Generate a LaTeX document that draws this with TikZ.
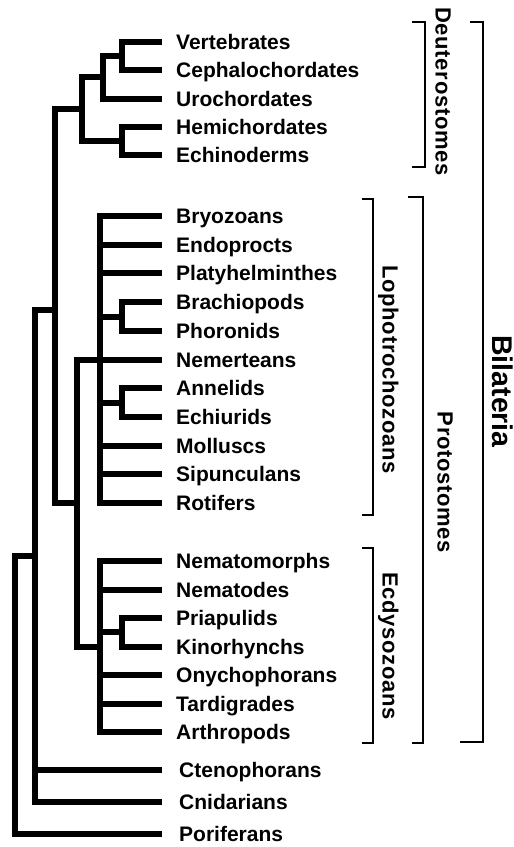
\documentclass[tikz,border=0pt]{standalone}
\usepackage{fontspec}
\setmainfont{Liberation Sans}
\newfontfamily\groupfont{Liberation Sans}[LetterSpace=3.0]
\usetikzlibrary{positioning, calc}
\tikzstyle{taxon}   = [anchor=west, inner sep=0pt, text height=15pt, text depth=0pt,
                       font=\fontsize{21}{21}\selectfont\bfseries]
\tikzstyle{stem}    = [line width=6pt, line join=miter]
\tikzstyle{branch}  = [stem, shorten >=14pt]
\tikzstyle{bracket} = [line width=2.8pt, line join=miter]
\tikzstyle{group}   = [rotate=-90, inner sep=0pt, text height=15pt, text depth=0pt,
                       font=\groupfont\fontsize{22}{22}\selectfont\bfseries]
\tikzstyle{bigroup} = [rotate=-90, inner sep=0pt, text height=20.5pt, text depth=0pt,
                       font=\fontsize{28.5}{28.5}\selectfont\bfseries]

\begin{document}
\begin{tikzpicture}[x=1pt, y=-1pt]
  \useasboundingbox (0,0) rectangle (514,847);

  % Deuterostomes
  \node (vert)  [taxon] at (176,42)    {Vertebrates};
  \node (ceph)  [taxon] at (176,70.3)  {Cephalochordates};
  \node (uro)   [taxon] at (176,98.6)  {Urochordates};
  \node (hemi)  [taxon] at (176,126.9) {Hemichordates};
  \node (echi)  [taxon] at (176,155.2) {Echinoderms};

  % Lophotrochozoans
  \node (bryo)  [taxon] at (176,216)   {Bryozoans};
  \node (endo)  [taxon] at (176,244.7) {Endoprocts};
  \node (platy) [taxon] at (176,273.4) {Platyhelminthes};
  \node (brach) [taxon] at (176,302.1) {Brachiopods};
  \node (phoro) [taxon] at (176,330.8) {Phoronids};
  \node (nemer) [taxon] at (176,359.5) {Nemerteans};
  \node (anne)  [taxon] at (176,388.2) {Annelids};
  \node (echiu) [taxon] at (176,416.9) {Echiurids};
  \node (moll)  [taxon] at (176,445.6) {Molluscs};
  \node (sipu)  [taxon] at (176,474.3) {Sipunculans};
  \node (roti)  [taxon] at (176,503)   {Rotifers};

  % Ecdysozoans
  \node (nmorph) [taxon] at (176,561)   {Nematomorphs};
  \node (nemat)  [taxon] at (176,589.5) {Nematodes};
  \node (pria)   [taxon] at (176,618)   {Priapulids};
  \node (kino)   [taxon] at (176,646.5) {Kinorhynchs};
  \node (onych)  [taxon] at (176,675)   {Onychophorans};
  \node (tardi)  [taxon] at (176,703.5) {Tardigrades};
  \node (arthro) [taxon] at (176,732)   {Arthropods};

  % Outgroups
  \node (cteno) [taxon] at (179,770) {Ctenophorans};
  \node (cnid)  [taxon] at (179,802) {Cnidarians};
  \node (pori)  [taxon] at (179,834) {Poriferans};

  % Inner nodes
  \coordinate (vc)    at (122,56.2);
  \coordinate (chord) at (103,77.4);
  \coordinate (amb)   at (122,141);
  \coordinate (deut)  at (82,109.2);
  \coordinate (bp)    at (122,316.5);
  \coordinate (ae)    at (122,402.5);
  \coordinate (loph)  at (100,359.5);
  \coordinate (pk)    at (122,632.2);
  \coordinate (ecd)   at (100,646.5);
  \coordinate (prot)  at (77,503);
  \coordinate (bil)   at (55,310);
  \coordinate (eum)   at (35,556);
  \coordinate (root)  at (15,556);

  \draw [branch] (vc)    |- (vert.west);
  \draw [branch] (vc)    |- (ceph.west);
  \draw [stem]   (chord) |- (vc);
  \draw [branch] (chord) |- (uro.west);
  \draw [branch] (amb)   |- (hemi.west);
  \draw [branch] (amb)   |- (echi.west);
  \draw [stem]   (deut)  |- (chord);
  \draw [stem]   (deut)  |- (amb);

  \draw [branch] (bp)   |- (brach.west);
  \draw [branch] (bp)   |- (phoro.west);
  \draw [branch] (ae)   |- (anne.west);
  \draw [branch] (ae)   |- (echiu.west);
  \draw [branch] (loph) |- (bryo.west);
  \draw [branch] (loph) |- (endo.west);
  \draw [branch] (loph) |- (platy.west);
  \draw [stem]   (loph) |- (bp);
  \draw [branch] (loph) -- (nemer.west);
  \draw [stem]   (loph) |- (ae);
  \draw [branch] (loph) |- (moll.west);
  \draw [branch] (loph) |- (sipu.west);
  \draw [branch] (loph) |- (roti.west);

  \draw [branch] (pk)  |- (pria.west);
  \draw [branch] (pk)  |- (kino.west);
  \draw [branch] (ecd) |- (nmorph.west);
  \draw [branch] (ecd) |- (nemat.west);
  \draw [stem]   (ecd) |- (pk);
  \draw [branch] (ecd) |- (onych.west);
  \draw [branch] (ecd) |- (tardi.west);
  \draw [branch] (ecd) |- (arthro.west);

  \draw [stem]   (prot) |- (loph);
  \draw [stem]   (prot) |- (ecd);
  \draw [stem]   (bil)  |- (deut);
  \draw [stem]   (bil)  |- (prot);
  \draw [stem]   (eum)  |- (bil);
  \draw [branch] (eum)  |- ([xshift=-3pt]cteno.west);
  \draw [branch] (eum)  |- ([xshift=-3pt]cnid.west);
  \draw [branch] (eum) -- (root) |- ([xshift=-3pt]pori.west);

  % Brackets
  \draw [bracket] (412,22)  -- (425,22)  -- (425,167) -- (412,167);
  \draw [bracket] (362,199) -- (373,199) -- (373,515) -- (362,515);
  \draw [bracket] (362,548) -- (373,548) -- (373,743) -- (362,743);
  \draw [bracket] (408,197) -- (423,197) -- (423,743) -- (412,743);
  \draw [bracket] (470,22)  -- (483,22)  -- (483,742) -- (460,742);

  \node (deutlbl) [group]   at (443,91.5)  {Deuterostomes};
  \node (lophlbl) [group]   at (390,369.5) {Lophotrochozoans};
  \node (ecdlbl)  [group]   at (390,646)   {Ecdysozoans};
  \node (protlbl) [group]   at (445,482.5) {Protostomes};
  \node (billbl)  [bigroup] at (503,391.5) {Bilateria};
\end{tikzpicture}
\end{document}
